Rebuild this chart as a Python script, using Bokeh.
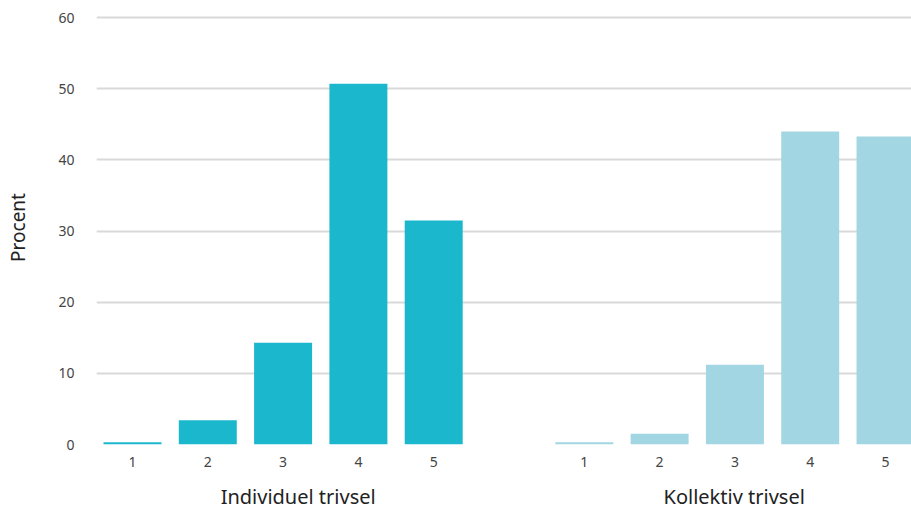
from bokeh.plotting import figure
from bokeh.models import ColumnDataSource, FixedTicker, LinearAxis, Range1d
from bokeh.embed import file_html
from bokeh.resources import INLINE

# Data
categories = ["1", "2", "3", "4", "5"]
individuel = [0.3, 3.4, 14.3, 50.7, 31.5]
kollektiv = [0.3, 1.5, 11.2, 44.0, 43.3]
group_labels = ["Individuel trivsel", "Kollektiv trivsel"]
y_ticks = [0, 10, 20, 30, 40, 50, 60]

ind_x = [1 + i for i in range(len(categories))]
kol_x = [7 + i for i in range(len(categories))]

FONT = "Noto Sans"

p = figure(width=911, height=512, output_backend="svg", toolbar_location=None,
           x_range=Range1d(0.522, 11.345), y_range=Range1d(0, 61),
           min_border_left=96, min_border_right=0, min_border_top=10,
           min_border_bottom=68)
p.outline_line_color = None

src_i = ColumnDataSource(dict(x=ind_x, top=individuel))
src_k = ColumnDataSource(dict(x=kol_x, top=kollektiv))
p.vbar(x="x", top="top", width=0.77, bottom=0, source=src_i,
       fill_color="#1ab7cd", line_color=None)
p.vbar(x="x", top="top", width=0.77, bottom=0, source=src_k,
       fill_color="#a2d6e2", line_color=None)

# Y axis
p.yaxis.ticker = FixedTicker(ticks=y_ticks)
p.yaxis.axis_line_color = None
p.yaxis.major_tick_line_color = None
p.yaxis.minor_tick_line_color = None
p.yaxis.major_label_standoff = 16
p.yaxis.major_label_text_font = FONT
p.yaxis.major_label_text_font_size = "14px"
p.yaxis.major_label_text_color = "#444444"
p.yaxis.axis_label = "Procent"
p.yaxis.axis_label_text_font = FONT
p.yaxis.axis_label_text_font_size = "19px"
p.yaxis.axis_label_text_font_style = "normal"
p.yaxis.axis_label_text_color = "#222222"
p.yaxis.axis_label_standoff = 24

p.ygrid.ticker = FixedTicker(ticks=y_ticks)
p.ygrid.grid_line_color = "#d9d9d9"
p.ygrid.grid_line_width = 2
p.xgrid.grid_line_color = None

# X axis (category numbers)
p.xaxis.ticker = FixedTicker(ticks=ind_x + kol_x)
p.xaxis.major_label_overrides = {x: c for x, c in zip(ind_x + kol_x, categories + categories)}
p.xaxis.axis_line_color = None
p.xaxis.major_tick_line_color = None
p.xaxis.minor_tick_line_color = None
p.xaxis.major_label_standoff = 6
p.xaxis.major_label_text_font = FONT
p.xaxis.major_label_text_font_size = "14px"
p.xaxis.major_label_text_color = "#444444"

# Group axis
group_x = [3.2, 8.99]
gax = LinearAxis(ticker=FixedTicker(ticks=group_x),
                 major_label_overrides={x: g for x, g in zip(group_x, group_labels)})
gax.axis_line_color = None
gax.major_tick_line_color = None
gax.minor_tick_line_color = None
gax.major_label_standoff = 7
gax.major_label_text_font = FONT
gax.major_label_text_font_size = "20px"
gax.major_label_text_color = "#222222"
p.add_layout(gax, "below")

open("out.html", "w").write(file_html(p, INLINE))
